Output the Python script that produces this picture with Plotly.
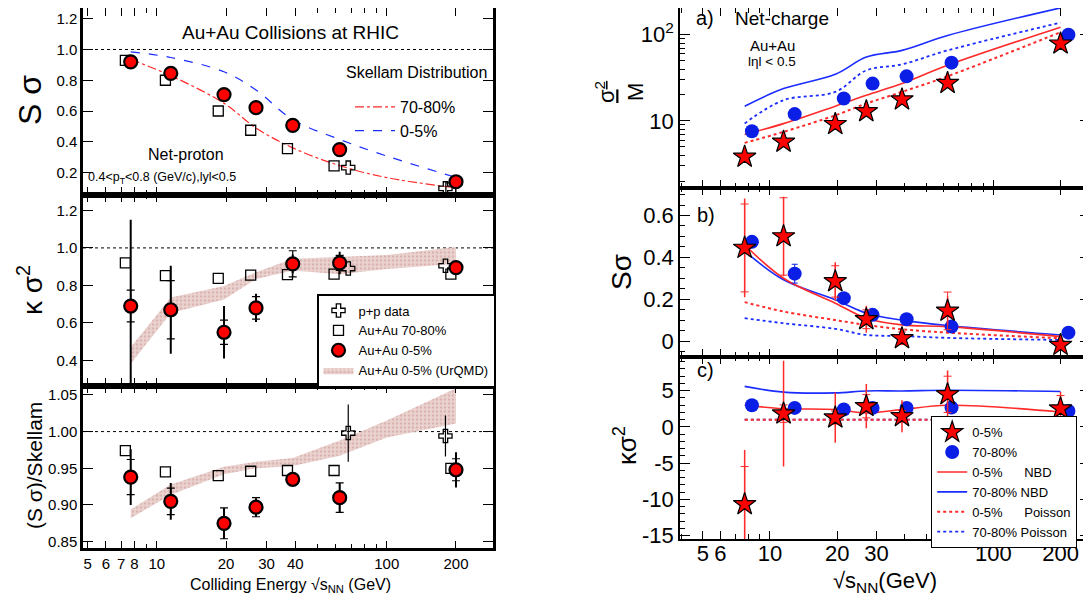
import plotly.graph_objects as go

FONT = "Liberation Sans, Arial, Helvetica, sans-serif"
OFF = 8                      # page body margin of the browser
W, H = 1091 - OFF, 597 - OFF  # figure size so that it fills the window

# ---------------- Left: net-proton (STAR) ----------------
E_au = [7.7, 11.5, 19.6, 27, 39, 62.4, 200]          # Au+Au 0-5%
E_sq = [7.3, 10.9, 18.5, 25.6, 37, 59, 190]          # Au+Au 70-80% (offset)
E_pp = [68, 180]                                     # p+p
E_model = [7.7, 11.5, 19.6, 27, 39, 62.4, 100, 200]  # Skellam / UrQMD curves

ss_0_5 = [0.92, 0.845, 0.707, 0.622, 0.507, 0.349, 0.14]
ss_70_80 = [0.929, 0.80, 0.60, 0.475, 0.355, 0.243, 0.10]
ss_pp = [0.232, 0.097]
sk_70_80 = [0.935, 0.83, 0.65, 0.49, 0.36, 0.245, 0.167, 0.10]
sk_0_5 = [0.985, 0.948, 0.855, 0.737, 0.544, 0.415, 0.307, 0.168]

k_0_5 = [0.69, 0.67, 0.55, 0.68, 0.915, 0.92, 0.895]
k_0_5_stat = [0.46, 0.235, 0.14, 0.075, 0.05, 0.06, 0.015]
k_0_5_sys = [0.085, 0.155, 0.065, 0.06, 0.07, 0.04, 0.01]
k_70_80 = [0.92, 0.852, 0.837, 0.855, 0.857, 0.86, 0.86]
k_pp = [0.89, 0.905]
uq_k_lo = [0.382, 0.653, 0.725, 0.834, 0.879, 0.86, 0.888, 0.915]
uq_k_hi = [0.47, 0.735, 0.797, 0.87, 0.942, 0.951, 0.962, 1.005]

r_0_5 = [0.938, 0.905, 0.875, 0.897, 0.935, 0.91, 0.948]
r_0_5_stat = [0.038, 0.025, 0.021, 0.012, 0.008, 0.02, 0.024]
r_0_5_sys = [0.024, 0.018, 0.021, 0.013, 0.006, 0.02, 0.015]
r_70_80 = [0.974, 0.945, 0.94, 0.946, 0.947, 0.947, 0.95]
r_pp = [0.998, 0.994]
r_pp_stat = [0.039, 0.028]
uq_r_lo = [0.882, 0.914, 0.942, 0.95, 0.953, 0.967, 0.992, 1.011]
uq_r_hi = [0.894, 0.928, 0.952, 0.959, 0.964, 0.988, 1.015, 1.059]

# ---------------- Right: net-charge (PHENIX) ----------------
E_c = [7.7, 11.5, 19.6, 27, 39, 62.4, 200]       # 0-5% stars / model curves
E_p = [8.3, 12.9, 21.4, 28.8, 40.9, 65, 217]     # 70-80% circles (offset)

sm_0_5 = [3.83, 5.71, 9.16, 12.9, 17.7, 27.5, 78.7]
sm_70_80 = [7.6, 12.0, 18.2, 27.1, 32.9, 47.4, 100]
nbd_sm_0_5 = [6.97, 9.3, 14.8, 19.8, 27.1, 44.2, 122]
poi_sm_0_5 = [5.56, 7.46, 11.6, 15.9, 21.7, 32.9, 107]
nbd_sm_70_80 = [14.8, 23.7, 34.7, 55, 65.8, 98, 205]
poi_sm_70_80 = [9.33, 17.4, 21.7, 38.6, 45.3, 65.8, 138]

s_0_5 = [0.445, 0.50, 0.285, 0.104, 0.013, 0.144, -0.019]
s_0_5_stat = [0.236, 0.19, 0.092, 0.065, 0.03, 0.07, 0.02]
s_0_5_sys = [0.21, 0.185, 0.075, 0.045, 0.03, 0.09, 0.02]
s_70_80 = [0.474, 0.322, 0.205, 0.125, 0.104, 0.069, 0.04]
s_70_80_sys = [0.01, 0.045, 0.01, 0.01, 0.025, 0.01, 0.005]
nbd_s_0_5 = [0.46, 0.30, 0.181, 0.109, 0.077, 0.069, 0.021]
nbd_s_70_80 = [0.43, 0.293, 0.197, 0.133, 0.10, 0.074, 0.029]
poi_s_0_5 = [0.186, 0.141, 0.10, 0.077, 0.056, 0.04, 0.013]
poi_s_70_80 = [0.109, 0.085, 0.058, 0.029, 0.024, 0.015, 0.005]

kc_0_5 = [-10.66, 1.84, 1.29, 2.86, 1.47, 4.5, 2.53]
kc_0_5_stat = [7.5, 7.3, 3.45, 3.05, 2.2, 3.3, 2.3]
kc_0_5_sys = [5.2, 1.2, 0.9, 1.6, 0.8, 2.5, 1.8]
kc_70_80 = [3.0, 2.63, 2.4, 2.63, 2.63, 2.67, 2.2]
nbd_k_0_5 = [3.0, 2.53, 2.4, 1.93, 2.4, 3.0, 2.07]
nbd_k_70_80 = [5.6, 4.8, 4.7, 4.97, 4.97, 5.06, 4.9]
poi_k_0_5 = [1.0, 1.0, 1.0, 1.0, 1.0, 1.0, 1.0]
poi_k_70_80 = [1.0, 1.0, 1.0, 1.0, 1.0, 1.0, 1.0]

# tick definitions
left_x_ticks = [5, 6, 7, 8, 10, 20, 30, 40, 100, 200]
left_x_minor = [9, 50, 60, 70, 80, 90]
right_x_ticks = [5, 6, 10, 20, 30, 100, 200]
right_x_minor = [4, 7, 8, 9, 40, 50, 60, 70, 80, 90]
right_y_log_ticks = [10, 100]
right_y_log_text = ["10", "10<sup>2</sup>"]
right_y_log_minor = [2, 3, 4, 5, 6, 7, 8, 9, 20, 30, 40, 50, 60, 70, 80, 90, 200]

RED = "#ff0000"
BLUE = "#0a1ee6"
LRED = "#ff2a2a"
LBLUE = "#1a2cff"
BAND = "#e3c2bf"

fig = go.Figure()

def px_x(p):
    return (p - OFF) / W

def px_y(p):
    return 1 - (p - OFF) / H

# domains (window pixel positions of the panel frames)
LX = [px_x(83), px_x(493)]
RX = [px_x(680), px_x(1090)]
L1 = [px_y(194.5), px_y(8)]
L2 = [px_y(385.5), px_y(194.5)]
L3 = [px_y(548.3), px_y(385.5)]
R1 = [px_y(187.7), px_y(8)]
R2 = [px_y(356.7), px_y(187.7)]
R3 = [px_y(539), px_y(356.7)]

def xaxis(domain, anchor, rng, vals, labels, minor, show, fs, lw, standoff=0):
    return dict(type="log", domain=domain, anchor=anchor, range=rng,
                tickmode="array", tickvals=vals, ticktext=[str(v) for v in labels],
                showticklabels=show, ticks="inside", ticklen=8, tickwidth=1.2,
                tickcolor="black", mirror="ticks", showline=True, linecolor="black",
                linewidth=lw, showgrid=False, zeroline=False,
                ticklabelstandoff=standoff,
                tickfont=dict(size=fs, color="black", family=FONT),
                minor=dict(tickvals=minor, ticks="inside", ticklen=5,
                           tickcolor="black", tickwidth=1, showgrid=False))

def yaxis(domain, anchor, rng, vals, text, fs, lw, minor=None, log=False):
    d = dict(domain=domain, anchor=anchor, range=rng, tickmode="array",
             tickvals=vals, ticktext=text, ticks="inside", ticklen=10,
             tickwidth=1.2, tickcolor="black", mirror="ticks", showline=True,
             linecolor="black", linewidth=lw, showgrid=False, zeroline=False,
             tickfont=dict(size=fs, color="black", family=FONT))
    if log:
        d["type"] = "log"
    if minor is not None:
        d["minor"] = dict(ticks="inside", ticklen=5, tickcolor="black",
                          tickwidth=1, showgrid=False, **minor)
    return d

lrange = [0.679, 2.462]
rrange = [0.597, 2.433]
fig.update_layout(
    xaxis=xaxis(LX, "y", lrange, left_x_ticks, left_x_ticks, left_x_minor, False, 15, 2.5),
    xaxis2=xaxis(LX, "y2", lrange, left_x_ticks, left_x_ticks, left_x_minor, False, 15, 2.5),
    xaxis3=xaxis(LX, "y3", lrange, left_x_ticks, left_x_ticks, left_x_minor, True, 15, 2.5),
    xaxis4=xaxis(RX, "y4", rrange, right_x_ticks, right_x_ticks, right_x_minor, False, 22, 1.5),
    xaxis5=xaxis(RX, "y5", rrange, right_x_ticks, right_x_ticks, right_x_minor, False, 22, 1.5),
    xaxis6=xaxis(RX, "y6", rrange, right_x_ticks, right_x_ticks, right_x_minor, True, 22, 1.5,
                 standoff=-6),
    yaxis=yaxis(L1, "x", [0.057, 1.27], [0.2, 0.4, 0.6, 0.8, 1.0, 1.2],
                ["0.2", "0.4", "0.6", "0.8", "1.0", "1.2"], 15, 2.5),
    yaxis2=yaxis(L2, "x2", [0.266, 1.285], [0.4, 0.6, 0.8, 1.0, 1.2],
                 ["0.4", "0.6", "0.8", "1.0", "1.2"], 15, 2.5),
    yaxis3=yaxis(L3, "x3", [0.841, 1.0628], [0.85, 0.9, 0.95, 1.0, 1.05],
                 ["0.85", "0.90", "0.95", "1.00", "1.05"], 15, 2.5),
    yaxis4=yaxis(R1, "x4", [0.225, 2.31], right_y_log_ticks, right_y_log_text, 22, 1.5,
                 minor=dict(tickvals=right_y_log_minor), log=True),
    yaxis5=yaxis(R2, "x5", [-0.075, 0.733], [0, 0.2, 0.4, 0.6], ["0", "0.2", "0.4", "0.6"],
                 22, 1.5, minor=dict(dtick=0.05)),
    yaxis6=yaxis(R3, "x6", [-15.45, 9.69], [-15, -10, -5, 0, 5], ["-15", "-10", "-5", "0", "5"],
                 22, 1.5, minor=dict(dtick=1)),
)

# ---------- helper trace builders ----------
def sys_err(x, y, err, xa, ya, color, width=4, thick=1.2):
    fig.add_trace(go.Scatter(x=x, y=y, mode="markers", xaxis=xa, yaxis=ya,
                             marker=dict(size=1, color="rgba(0,0,0,0)"),
                             error_y=dict(type="data", array=err, visible=True,
                                          color=color, thickness=thick, width=width),
                             showlegend=False, hoverinfo="skip"))

def band(x, lo, hi, xa, ya, show):
    fig.add_trace(go.Scatter(x=list(x) + list(x)[::-1], y=list(hi) + list(lo)[::-1],
                             mode="lines", fill="toself", fillcolor=BAND,
                             fillpattern=dict(shape=".", fgcolor="#c99490", bgcolor="#ead3d0",
                                              size=4, solidity=0.35),
                             line=dict(width=0, color=BAND), xaxis=xa, yaxis=ya,
                             name="Au+Au 0-5% (UrQMD)", legend="legend",
                             showlegend=show, legendrank=4))

sq_marker = dict(symbol="square-open", size=10, color="black", line=dict(width=1.3, color="black"))
pp_marker = dict(symbol="cross-open", size=11, color="black", line=dict(width=1.3, color="black"))
rc_marker = dict(symbol="circle", size=13, color=RED, line=dict(width=2.2, color="black"))

# ---------- Left top: S sigma ----------
fig.add_trace(go.Scatter(x=E_model, y=sk_70_80, mode="lines", line=dict(color=LRED, dash="dashdot", width=1.2, shape="spline"),
                         xaxis="x", yaxis="y", name="70-80%", legend="legend3", showlegend=True))
fig.add_trace(go.Scatter(x=E_model, y=sk_0_5, mode="lines", line=dict(color=LBLUE, dash="dash", width=1.2, shape="spline"),
                         xaxis="x", yaxis="y", name="0-5%", legend="legend3", showlegend=True))
fig.add_trace(go.Scatter(x=E_sq, y=ss_70_80, mode="markers", marker=sq_marker, xaxis="x", yaxis="y", showlegend=False))
fig.add_trace(go.Scatter(x=E_pp, y=ss_pp, mode="markers", marker=pp_marker, xaxis="x", yaxis="y", showlegend=False))
fig.add_trace(go.Scatter(x=E_au, y=ss_0_5, mode="markers", marker=rc_marker, xaxis="x", yaxis="y", showlegend=False))

# ---------- Left middle: kappa sigma^2 ----------
band(E_model, uq_k_lo, uq_k_hi, "x2", "y2", True)
fig.add_trace(go.Scatter(x=E_pp, y=k_pp, mode="markers", marker=pp_marker, xaxis="x2", yaxis="y2",
                         name="p+p data", legend="legend", legendrank=1))
fig.add_trace(go.Scatter(x=E_sq, y=k_70_80, mode="markers", marker=sq_marker, xaxis="x2", yaxis="y2",
                         name="Au+Au 70-80%", legend="legend", legendrank=2))
sys_err(E_au, k_0_5, k_0_5_sys, "x2", "y2", "black")
fig.add_trace(go.Scatter(x=E_au, y=k_0_5, mode="markers", marker=rc_marker, xaxis="x2", yaxis="y2",
                         error_y=dict(type="data", array=k_0_5_stat, color="black", thickness=2, width=0),
                         name="Au+Au 0-5%", legend="legend", legendrank=3))

# ---------- Left bottom: S sigma / Skellam ----------
band(E_model, uq_r_lo, uq_r_hi, "x3", "y3", False)
fig.add_trace(go.Scatter(x=E_pp, y=r_pp, mode="markers", marker=pp_marker, xaxis="x3", yaxis="y3",
                         error_y=dict(type="data", array=r_pp_stat, color="black", thickness=1.2, width=0),
                         showlegend=False))
fig.add_trace(go.Scatter(x=E_sq, y=r_70_80, mode="markers", marker=sq_marker, xaxis="x3", yaxis="y3", showlegend=False))
sys_err(E_au, r_0_5, r_0_5_sys, "x3", "y3", "black")
fig.add_trace(go.Scatter(x=E_au, y=r_0_5, mode="markers", marker=rc_marker, xaxis="x3", yaxis="y3",
                         error_y=dict(type="data", array=r_0_5_stat, color="black", thickness=2, width=0),
                         showlegend=False))

# ---------- Right panels ----------
star = dict(symbol="star", size=17, color=RED, line=dict(width=1.2, color="black"))
bcirc = dict(symbol="circle", size=14, color=BLUE, line=dict(width=0))
NB = "\u00a0"

def model_lines(xa, ya, nbd0, nbd7, poi0, poi7, show):
    fig.add_trace(go.Scatter(x=E_c, y=poi7, mode="lines", line=dict(color=LBLUE, dash="dot", width=1.8, shape="spline"),
                             xaxis=xa, yaxis=ya, name="70-80%" + NB + "Poisson", legend="legend2",
                             showlegend=show, legendrank=6))
    fig.add_trace(go.Scatter(x=E_c, y=poi0, mode="lines", line=dict(color=LRED, dash="dot", width=2.0, shape="spline"),
                             xaxis=xa, yaxis=ya, name="0-5%" + NB * 6 + "Poisson", legend="legend2",
                             showlegend=show, legendrank=5))
    fig.add_trace(go.Scatter(x=E_c, y=nbd7, mode="lines", line=dict(color=LBLUE, width=1.6, shape="spline"),
                             xaxis=xa, yaxis=ya, name="70-80%" + NB + "NBD", legend="legend2",
                             showlegend=show, legendrank=4))
    fig.add_trace(go.Scatter(x=E_c, y=nbd0, mode="lines", line=dict(color=LRED, width=1.6, shape="spline"),
                             xaxis=xa, yaxis=ya, name="0-5%" + NB * 6 + "NBD", legend="legend2",
                             showlegend=show, legendrank=3))

# a) sigma^2/M
model_lines("x4", "y4", nbd_sm_0_5, nbd_sm_70_80, poi_sm_0_5, poi_sm_70_80, True)
fig.add_trace(go.Scatter(x=E_p, y=sm_70_80, mode="markers", marker=bcirc, xaxis="x4", yaxis="y4",
                         name="70-80%", legend="legend2", legendrank=2))
fig.add_trace(go.Scatter(x=E_c, y=sm_0_5, mode="markers", marker=star, xaxis="x4", yaxis="y4",
                         name="0-5%", legend="legend2", legendrank=1))

# b) S sigma
model_lines("x5", "y5", nbd_s_0_5, nbd_s_70_80, poi_s_0_5, poi_s_70_80, False)
sys_err(E_p, s_70_80, s_70_80_sys, "x5", "y5", BLUE, width=3, thick=1)
fig.add_trace(go.Scatter(x=E_p, y=s_70_80, mode="markers", marker=bcirc, xaxis="x5", yaxis="y5", showlegend=False))
sys_err(E_c, s_0_5, s_0_5_sys, "x5", "y5", LRED, width=4, thick=1)
fig.add_trace(go.Scatter(x=E_c, y=s_0_5, mode="markers", marker=star, xaxis="x5", yaxis="y5",
                         error_y=dict(type="data", array=s_0_5_stat, color=LRED, thickness=1.5, width=0),
                         showlegend=False))

# c) kappa sigma^2
model_lines("x6", "y6", nbd_k_0_5, nbd_k_70_80, poi_k_0_5, poi_k_70_80, False)
fig.add_trace(go.Scatter(x=E_p, y=kc_70_80, mode="markers", marker=bcirc, xaxis="x6", yaxis="y6", showlegend=False))
sys_err(E_c, kc_0_5, kc_0_5_sys, "x6", "y6", LRED, width=4, thick=1)
fig.add_trace(go.Scatter(x=E_c, y=kc_0_5, mode="markers", marker=star, xaxis="x6", yaxis="y6",
                         error_y=dict(type="data", array=kc_0_5_stat, color=LRED, thickness=1.5, width=0),
                         showlegend=False))

# ---------- reference lines at 1 on left panels ----------
for ya in ["y", "y2", "y3"]:
    xr = "x" if ya == "y" else "x" + ya[1:]
    fig.add_shape(type="line", xref=xr + " domain", yref=ya, x0=0, x1=1, y0=1.0, y1=1.0,
                  line=dict(color="black", width=1, dash="dot"), layer="below")

# ---------- annotations ----------
def ann(text, x, y, size, angle=0, xanchor="center", yanchor="middle"):
    fig.add_annotation(text=text, x=px_x(x), y=px_y(y), xref="paper", yref="paper",
                       showarrow=False, textangle=angle, xanchor=xanchor, yanchor=yanchor,
                       font=dict(size=size, color="black", family=FONT))

ann("Au+Au Collisions at RHIC", 290, 32, 19)
ann("Skellam Distribution", 489, 72, 16, xanchor="right")
ann("Net-proton", 186, 154, 16)
ann("0.4<p<sub>T</sub><0.8 (GeV/c),lyl<0.5", 162, 178, 12.5)
ann("S σ", 30, 100, 32, angle=-90)
ann("κ σ<sup>2</sup>", 30, 290, 28, angle=-90)
ann("(S σ)/Skellam", 34, 466, 21, angle=-90)
ann("Colliding Energy √s<sub>NN</sub> (GeV)", 290, 585, 16)

ann("a)", 694, 18, 20, xanchor="left")
ann("Net-charge", 733, 18, 19, xanchor="left")
ann("Au+Au", 748, 45, 15, xanchor="left")
ann("lηl < 0.5", 746, 62, 13.5, xanchor="left")
ann("b)", 695, 215, 20, xanchor="left")
ann("c)", 695, 370, 20, xanchor="left")
ann("<u>σ<sup>2</sup></u><br>M", 619, 92, 22, angle=-90)
ann("Sσ", 621, 272, 28, angle=-90)
ann("κσ<sup>2</sup>", 625, 446, 26, angle=-90)
ann("√s<sub>NN</sub>(GeV)", 885, 582, 22)

fig.update_layout(
    width=W, height=H, margin=dict(l=0, r=0, t=0, b=0, autoexpand=False),
    paper_bgcolor="white", plot_bgcolor="white",
    font=dict(family=FONT, color="black"),
    legend=dict(x=px_x(317), y=px_y(294), xanchor="left", yanchor="top",
                bordercolor="black", borderwidth=1.5, bgcolor="white",
                font=dict(size=13, family=FONT), itemwidth=30, tracegroupgap=0,
                traceorder="normal"),
    legend2=dict(x=px_x(931), y=px_y(416), xanchor="left", yanchor="top",
                 bordercolor="black", borderwidth=1.2, bgcolor="white",
                 font=dict(size=13, family=FONT), itemwidth=30, tracegroupgap=0,
                 traceorder="normal"),
    legend3=dict(x=px_x(350), y=px_y(90), xanchor="left", yanchor="top",
                 borderwidth=0, bgcolor="rgba(0,0,0,0)",
                 font=dict(size=16, family=FONT), itemwidth=40, tracegroupgap=0,
                 traceorder="normal"),
)

fig.write_html("out.html")
